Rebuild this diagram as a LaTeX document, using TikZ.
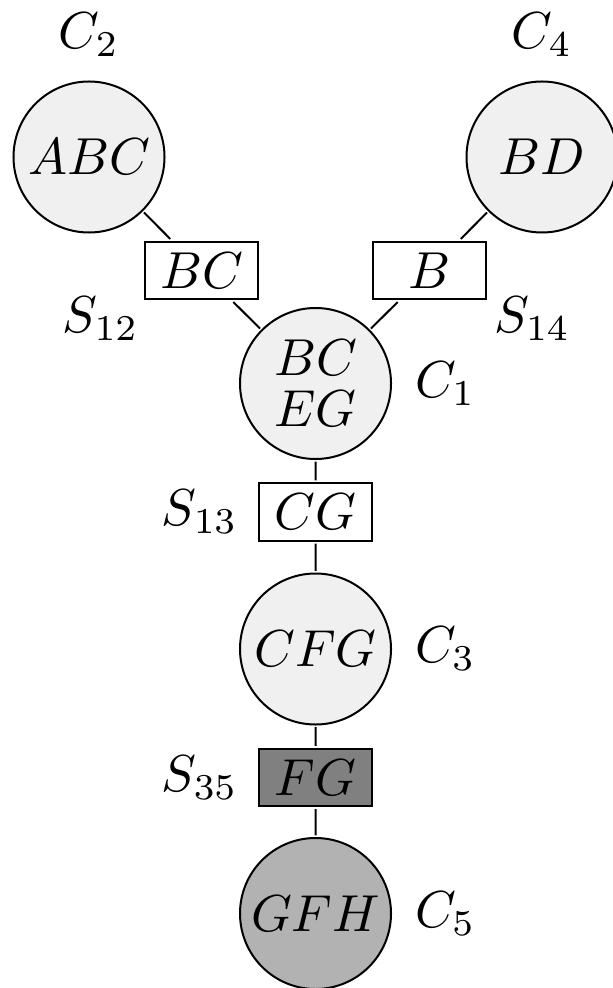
\documentclass[tikz,border=0pt]{standalone}
\usepackage{amsmath}
\usepackage{xcolor}
\usepackage{tikz}
\usetikzlibrary{positioning}
\tikzset{>=stealth}

\begin{document}
\begin{tikzpicture}[x=0.5pt,y=-0.5pt,line width=1pt,font=\fontsize{10}{9.8}\selectfont,
        every node/.append style={scale=2.6},
        clique/.style={circle,draw,fill=black!6,minimum size=29.04pt,inner sep=0pt,align=center},
        sepset/.style={rectangle,draw,fill=white,minimum width=21.73pt,minimum height=11.15pt,inner sep=0pt},
        tag/.style={inner sep=0pt}]
        \useasboundingbox (0,0) rectangle (613,988);
        \node[clique] (c2) at (89,157) {$ABC$};
        \node[clique] (c4) at (542,157) {$BD$};
        \node[clique] (c1) at (315.5,383.5) {$BC$\\$EG$};
        \node[clique] (c3) at (315.5,649) {$CFG$};
        \node[clique,fill=black!30] (c5) at (315.5,913.5) {$GFH$};
        \node[sepset] (s12) at (201.5,270.5) {$BC$};
        \node[sepset] (s14) at (429.5,270.5) {$B$};
        \node[sepset] (s13) at (315.5,512) {$CG$};
        \node[sepset,fill=black!50] (s35) at (315.5,777.5) {$FG$};
        \node[tag,above=10pt of c2] {$C_2$};
        \node[tag,above=10pt of c4] {$C_4$};
        \node[tag,right=9.5pt of c1] {$C_1$};
        \node[tag,right=9.5pt of c3] {$C_3$};
        \node[tag,right=9.5pt of c5] {$C_5$};
        \node[tag,below left=-4pt and 0.5pt of s12] {$S_{12}$};
        \node[tag,below right=-4pt and 1.5pt of s14] {$S_{14}$};
        \node[tag,left=8pt of s13] {$S_{13}$};
        \node[tag,left=8pt of s35] {$S_{35}$};
        \draw (c2) -- (s12) -- (c1) -- (s14) -- (c4);
        \draw (c1) -- (s13) -- (c3) -- (s35) -- (c5);
\end{tikzpicture}
\end{document}
